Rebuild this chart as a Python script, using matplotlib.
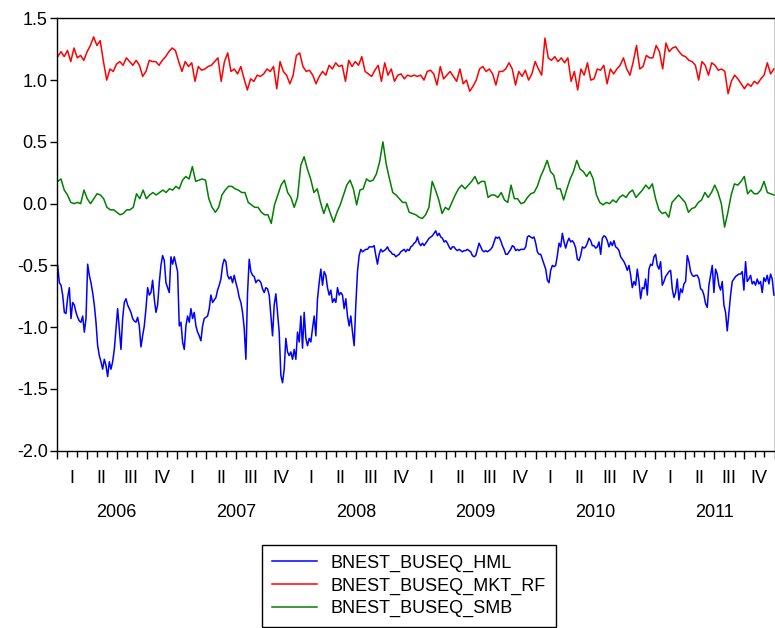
import pandas as pd
import matplotlib.pyplot as plt
import matplotlib.dates as mdates
from matplotlib.ticker import FormatStrFormatter, MultipleLocator

plt.rcParams['font.family'] = ['Liberation Sans', 'DejaVu Sans']
plt.rcParams['axes.unicode_minus'] = False

# --- data (evenly spaced samples, Jan 2006 .. Dec 2011) ---
hml = [
    -0.50, -0.64, -0.66, -0.74, -0.88, -0.89, -0.76, -0.68, -0.93, -0.80,
    -0.82, -0.88, -0.92, -0.95, -0.96, -0.91, -1.04, -0.93, -0.49, -0.58,
    -0.64, -0.72, -0.82, -0.96, -1.15, -1.23, -1.28, -1.34, -1.26, -1.31,
    -1.40, -1.28, -1.34, -1.28, -1.18, -1.01, -0.85, -1.01, -1.18, -0.93,
    -0.80, -0.77, -0.82, -0.85, -0.88, -0.93, -0.95, -0.96, -0.92, -0.99,
    -1.16, -1.07, -0.99, -0.85, -0.68, -0.74, -0.72, -0.62, -0.77, -0.88,
    -0.82, -0.64, -0.50, -0.42, -0.46, -0.64, -0.68, -0.72, -0.43, -0.49,
    -0.43, -0.49, -0.55, -0.99, -0.96, -1.12, -1.18, -0.99, -0.91, -0.96,
    -0.85, -0.93, -0.88, -0.99, -1.04, -1.07, -1.11, -0.99, -0.93, -0.92,
    -0.91, -0.85, -0.74, -0.80, -0.78, -0.76, -0.70, -0.66, -0.61, -0.50,
    -0.45, -0.47, -0.58, -0.61, -0.59, -0.64, -0.58, -0.64, -0.69, -0.76,
    -0.80, -0.88, -1.01, -1.26, -0.72, -0.45, -0.55, -0.58, -0.59, -0.64,
    -0.62, -0.62, -0.64, -0.69, -0.72, -0.68, -0.69, -0.74, -0.91, -1.07,
    -0.82, -0.73, -0.88, -1.04, -1.39, -1.45, -1.34, -1.09, -1.20, -1.23,
    -1.20, -1.26, -1.18, -1.26, -1.04,
    -1.12, -0.91, -1.17, -0.88, -1.09, -1.15, -1.09, -1.12, -1.01, -0.91,
    -1.07, -0.77, -0.64, -0.53, -0.66, -0.55, -0.58, -0.68, -0.74, -0.70,
    -0.80, -0.77, -0.80, -0.68, -0.74, -0.72, -0.74, -0.85, -0.77, -0.91,
    -0.99, -0.91, -1.04, -1.15, -0.82, -0.55, -0.42, -0.37, -0.39, -0.38,
    -0.37, -0.37, -0.35, -0.35, -0.35, -0.34, -0.42, -0.49, -0.41, -0.37,
    -0.39, -0.38, -0.37, -0.35, -0.38, -0.39, -0.41, -0.41, -0.43, -0.42,
    -0.41, -0.39, -0.38, -0.37, -0.39, -0.37, -0.38, -0.35, -0.34, -0.32,
    -0.31, -0.27, -0.32, -0.34, -0.32, -0.34, -0.32, -0.30, -0.28, -0.27,
    -0.26, -0.24, -0.22, -0.26, -0.24, -0.27, -0.28, -0.31, -0.30, -0.32,
    -0.35, -0.37, -0.35, -0.35, -0.37, -0.38, -0.37, -0.38, -0.39, -0.38,
    -0.38, -0.37, -0.38, -0.39, -0.42, -0.43, -0.42, -0.37, -0.32, -0.35,
    -0.38, -0.39, -0.38, -0.39, -0.38, -0.37, -0.35, -0.31, -0.27, -0.28,
    -0.27, -0.30, -0.34, -0.37, -0.41, -0.41, -0.39, -0.37, -0.34, -0.35,
    -0.38, -0.37, -0.38, -0.37, -0.37, -0.37, -0.35, -0.27, -0.26, -0.27,
    -0.28, -0.27, -0.32, -0.39, -0.41,
    -0.41, -0.45, -0.49, -0.53, -0.62, -0.64, -0.54, -0.50, -0.51, -0.50,
    -0.42, -0.32, -0.35, -0.24, -0.31, -0.36, -0.31, -0.28, -0.31, -0.30,
    -0.32, -0.36, -0.45, -0.46, -0.42, -0.35, -0.36, -0.35, -0.32, -0.28,
    -0.30, -0.34, -0.34, -0.36, -0.35, -0.31, -0.41, -0.28, -0.26, -0.27,
    -0.30, -0.35, -0.31, -0.34, -0.30, -0.35, -0.36, -0.38, -0.43, -0.45,
    -0.47, -0.50, -0.54, -0.50, -0.58, -0.68, -0.63, -0.66, -0.53, -0.63,
    -0.77, -0.68, -0.69, -0.61, -0.74, -0.53, -0.49, -0.50, -0.43, -0.41,
    -0.50, -0.53, -0.47, -0.66, -0.63, -0.59, -0.57, -0.55, -0.54, -0.69,
    -0.76, -0.72, -0.61, -0.78, -0.69, -0.72, -0.65, -0.63, -0.42, -0.47,
    -0.55, -0.58, -0.59, -0.58, -0.58, -0.61, -0.69, -0.70, -0.74, -0.81,
    -0.84, -0.66, -0.58, -0.50, -0.72, -0.53, -0.57, -0.66, -0.70, -0.63,
    -0.82, -0.88, -1.03, -0.88, -0.74, -0.63, -0.61, -0.59, -0.58, -0.57,
    -0.57, -0.55, -0.70, -0.47, -0.63, -0.61, -0.58, -0.65, -0.63, -0.66,
    -0.61, -0.65, -0.63, -0.72, -0.60, -0.63, -0.58, -0.65, -0.57, -0.61,
    -0.74,
]

mkt_rf = [
    1.19, 1.23, 1.19, 1.24, 1.15, 1.26, 1.18, 1.20, 1.16, 1.23,
    1.28, 1.35, 1.28, 1.32, 1.15, 1.00, 1.09, 1.07, 1.13, 1.15,
    1.12, 1.18, 1.15, 1.12, 1.16, 1.12, 1.03, 1.07, 1.16, 1.15,
    1.15, 1.12, 1.16, 1.19, 1.23, 1.26, 1.24, 1.15, 1.07,
    1.15, 1.11, 1.14, 0.99, 1.11, 1.08, 1.09, 1.11, 1.12, 1.15,
    1.18, 0.99, 1.15, 1.22, 1.07, 1.09, 1.05, 1.11, 1.01, 0.92,
    1.01, 0.99, 1.04, 1.03, 1.05, 1.09, 1.07, 1.11, 0.93,
    1.15, 1.07, 1.04, 0.97, 1.04, 1.20,
    1.22, 1.11, 1.07, 1.08, 1.04, 0.97, 1.03, 1.07, 1.04, 1.12,
    1.09, 1.14, 1.11, 1.12, 0.99, 1.16, 1.11, 1.15, 1.12, 1.19,
    1.07, 1.05, 1.03, 1.08, 1.12, 0.99, 1.14, 1.04, 1.09, 0.99,
    1.04, 1.05, 1.01, 1.04, 1.03, 1.04, 1.03, 1.04, 1.00, 1.07,
    1.08, 1.05, 0.96, 1.11, 1.01, 1.04, 1.07, 1.03, 0.99, 1.09,
    0.97, 1.00, 0.91, 0.95, 1.00, 1.09, 1.11, 1.07, 1.09, 1.05,
    0.96, 1.07, 1.07, 1.09, 1.14, 1.09, 0.96, 1.07, 1.03, 1.08,
    1.00, 1.05, 1.15, 1.09,
    1.04, 1.34, 1.18, 1.16, 1.19, 1.15, 1.18, 1.14, 1.18,
    0.99, 1.07, 0.92, 1.09, 1.04, 1.14, 1.00, 1.01, 1.09, 1.08, 1.12,
    0.97, 1.09, 1.05, 1.09, 1.12, 1.18, 1.09, 1.04, 1.15,
    1.28, 1.09, 1.11, 1.20, 1.18, 1.18, 1.28, 1.23, 1.09, 1.30,
    1.23, 1.26, 1.27, 1.23, 1.20, 1.19, 1.16, 1.15, 1.12, 1.00,
    1.15, 1.12, 1.04, 1.14, 1.12, 1.08, 1.09, 1.07,
    0.89, 0.99, 1.04, 1.01, 0.97, 0.93, 0.97, 0.95, 0.99, 0.97, 1.01, 1.04,
    1.14, 1.05, 1.09,
]

smb = [
    0.18, 0.20, 0.11, 0.07, 0.01, 0.00, 0.01, 0.00, 0.11,
    0.04, 0.00, 0.04, 0.08, 0.07, 0.04, -0.03, -0.05, -0.05, -0.07,
    -0.09, -0.08, -0.05, -0.05, -0.03, 0.08, 0.04, 0.11, 0.04, 0.07,
    0.09, 0.07, 0.09, 0.11, 0.09, 0.12, 0.11, 0.14, 0.12, 0.19,
    0.22, 0.20, 0.30, 0.18, 0.19, 0.20, 0.19, 0.04, -0.03, -0.07,
    -0.03, 0.07, 0.11, 0.14, 0.14, 0.12, 0.11, 0.09, 0.09, 0.01,
    -0.01, -0.03, -0.03, -0.07, -0.09, -0.09, -0.16, -0.01, 0.07, 0.15,
    0.19, 0.09, 0.05, -0.03, 0.05,
    0.31, 0.38, 0.28, 0.20, 0.09, 0.12, 0.01, -0.08, 0.00, -0.08,
    -0.15, -0.07, -0.01, 0.07, 0.15, 0.19, 0.12, -0.01, 0.11, 0.12,
    0.20, 0.18, 0.19, 0.24, 0.34, 0.50, 0.32, 0.20, 0.09, 0.07,
    0.04, 0.01, 0.01, -0.07, -0.08, -0.09, -0.11, -0.12, -0.09, -0.03,
    0.18, 0.11, 0.03, -0.08, -0.03, -0.05, 0.01, 0.07, 0.12, 0.15,
    0.12, 0.15, 0.18, 0.22, 0.16, 0.18, 0.18, 0.05, 0.07, 0.07,
    0.05, 0.09, 0.03, 0.01, 0.15, 0.04, 0.04, 0.00, 0.01, 0.05,
    0.08, 0.09, 0.14,
    0.22, 0.28, 0.35, 0.26, 0.23, 0.12, 0.12, 0.03, 0.12, 0.20,
    0.26, 0.35, 0.28, 0.26, 0.22, 0.26, 0.20, 0.07, 0.01, -0.01,
    0.01, 0.00, 0.03, 0.01, 0.05, 0.07, 0.05, 0.09, 0.11, 0.05,
    0.08, 0.11, 0.15, 0.12, 0.16, 0.04, -0.05, -0.08, -0.07, -0.11,
    0.01, 0.04, 0.07, 0.04, 0.01, -0.07, -0.04, -0.03, 0.01, 0.03,
    0.09, 0.05, 0.09, 0.15, 0.09, 0.00, -0.19, -0.07, 0.07, 0.16,
    0.15, 0.18, 0.22, 0.08, 0.11, 0.08, 0.08, 0.11, 0.18, 0.09,
    0.08, 0.07,
]

series_names = ['BNEST_BUSEQ_HML', 'BNEST_BUSEQ_MKT_RF', 'BNEST_BUSEQ_SMB']
series_colors = ['#0000ff', '#ff0000', '#008000']
years = [2006, 2007, 2008, 2009, 2010, 2011]
quarter_labels = ['I', 'II', 'III', 'IV']

start, end = '2006-01-02', '2011-12-30'

fig = plt.figure(figsize=(7.75, 6.28), dpi=100)
ax = fig.add_axes([0.074, 0.2823, 0.9254, 0.6885])

handles = []
for vals, name, col in zip([hml, mkt_rf, smb], series_names, series_colors):
    dates = pd.date_range(start, end, periods=len(vals))
    h, = ax.plot(dates, vals, color=col, lw=1.1, label=name)
    handles.append(h)

ax.set_xlim(pd.Timestamp('2006-01-01'), pd.Timestamp('2012-01-01'))
ax.set_ylim(-2.0, 1.5)
ax.yaxis.set_major_locator(MultipleLocator(0.5))
ax.yaxis.set_major_formatter(FormatStrFormatter('%.1f'))

# quarters as long ticks, months as short ticks
ax.xaxis.set_major_locator(mdates.MonthLocator(bymonth=[1, 4, 7, 10]))
ax.xaxis.set_minor_locator(mdates.MonthLocator())
ax.xaxis.set_major_formatter(plt.NullFormatter())
ax.tick_params(axis='x', which='major', direction='out', length=6, width=1)
ax.tick_params(axis='x', which='minor', direction='out', length=4, width=1)
ax.tick_params(axis='y', direction='out', length=5, width=1, labelsize=13, pad=2)

for sp in ax.spines.values():
    sp.set_linewidth(1.0)
    sp.set_color('black')

trans = ax.get_xaxis_transform()
for yr in years:
    for q, lab in enumerate(quarter_labels):
        mid = pd.Timestamp(yr, 3 * q + 1, 1) + pd.Timedelta(days=45)
        ax.text(mid, -0.0654, lab, transform=trans, ha='center', va='center', fontsize=13)
    ax.text(pd.Timestamp(yr, 7, 1), -0.1418, str(yr), transform=trans,
            ha='center', va='center', fontsize=13)

leg = fig.legend(handles, series_names, loc='lower center', bbox_to_anchor=(0.528, 0.0015),
                 borderaxespad=0, fontsize=13, frameon=True, fancybox=False,
                 edgecolor='black', framealpha=1, handlelength=2.5, labelspacing=0.3,
                 borderpad=0.55, handletextpad=0.75)
leg.get_frame().set_linewidth(1.0)

fig.savefig('out.png', dpi=100)
